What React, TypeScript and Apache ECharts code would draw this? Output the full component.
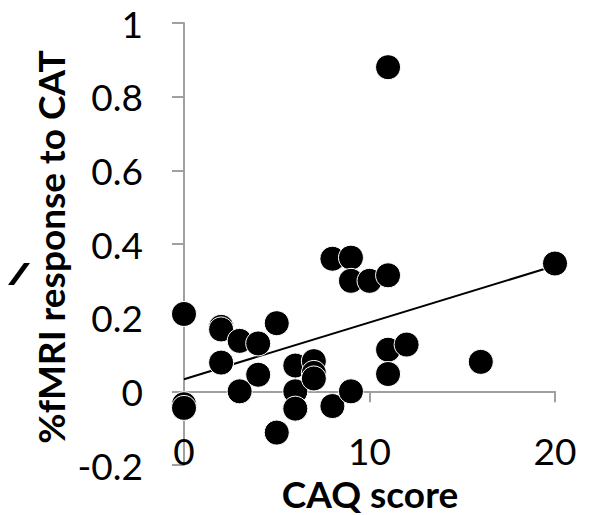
import React, { useEffect, useRef } from "react";
import * as echarts from "echarts";

const caqScore = [0, 0, 0, 2, 2, 2, 3, 3, 4, 4, 5, 5, 6, 6, 6, 7, 7, 7, 8, 8, 9, 9, 9, 10, 11, 11, 11, 11, 12, 16, 20];
const fmriResponse = [0.21, -0.035, -0.045, 0.175, 0.168, 0.078, 0.137, 0, 0.13, 0.045, 0.185, -0.112, 0.07, 0, -0.047, 0.082, 0.05, 0.035, 0.36, -0.04, 0.363, 0.3, 0, 0.3, 0.315, 0.88, 0.113, 0.047, 0.127, 0.08, 0.347];
const trendX = [0, 20];
const trendY = [0.033, 0.341];
const xTicks = [0, 10, 20];
const yTicks = [-0.2, 0, 0.2, 0.4, 0.6, 0.8, 1];

const FONT = "Lato, 'Open Sans', sans-serif";
const AXIS_GRAY = "#a0a0a0";

export default function App() {
  const ref = useRef<HTMLDivElement>(null);
  useEffect(() => {
    if (!ref.current) return;
    const chart = echarts.init(ref.current, null, { renderer: "svg" });
    const points = caqScore.map((x, i) => [x, fmriResponse[i]]);
    const trend = trendX.map((x, i) => [x, trendY[i]]);
    chart.setOption({
      animation: false,
      backgroundColor: "#ffffff",
      grid: { left: 184, right: 45, top: 23, bottom: 50, containLabel: false, outerBoundsMode: "none" },
      xAxis: {
        type: "value",
        min: xTicks[0],
        max: xTicks[xTicks.length - 1],
        interval: xTicks[1] - xTicks[0],
        splitLine: { show: false },
        axisLine: { show: true, onZero: true, lineStyle: { color: AXIS_GRAY, width: 2 } },
        axisTick: { show: true, inside: false, length: 11, lineStyle: { color: AXIS_GRAY, width: 2 } },
        axisLabel: { color: "#000", fontSize: 37, fontFamily: FONT, margin: -33 },
      },
      yAxis: {
        type: "value",
        min: yTicks[0],
        max: yTicks[yTicks.length - 1],
        interval: 0.2,
        splitLine: { show: false },
        axisLine: { show: true, onZero: false, lineStyle: { color: AXIS_GRAY, width: 2 } },
        axisTick: { show: true, inside: false, length: 12, lineStyle: { color: AXIS_GRAY, width: 2 } },
        axisLabel: {
          color: "#000",
          fontSize: 37,
          fontFamily: FONT,
          margin: 41,
          formatter: (v: number) => String(Math.round(v * 10) / 10),
        },
      },
      series: [
        {
          type: "line",
          data: trend,
          symbol: "none",
          lineStyle: { color: "#000", width: 2 },
          z: 1,
        },
        {
          type: "scatter",
          data: points,
          symbolSize: 25,
          itemStyle: { color: "#000", borderColor: "#fff", borderWidth: 1, opacity: 1 },
          z: 2,
        },
      ],
      graphic: [
        {
          type: "text",
          x: 50,
          y: 247,
          rotation: Math.PI / 2,
          style: {
            text: "%fMRI response to CAT",
            font: `bold 37px ${FONT}`,
            fill: "#000",
            align: "center",
            verticalAlign: "middle",
          },
        },
        {
          type: "text",
          x: 370,
          y: 493,
          style: {
            text: "CAQ score",
            font: `bold 37px ${FONT}`,
            fill: "#000",
            align: "center",
            verticalAlign: "middle",
          },
        },
        {
          type: "polygon",
          shape: { points: [[24, 263], [30, 263], [14, 285], [8, 285]] },
          style: { fill: "#000" },
        },
      ],
    });
    return () => chart.dispose();
  }, []);
  return (
    <div
      ref={ref}
      style={{ position: "absolute", left: 0, top: 0, width: 600, height: 515 }}
    />
  );
}
